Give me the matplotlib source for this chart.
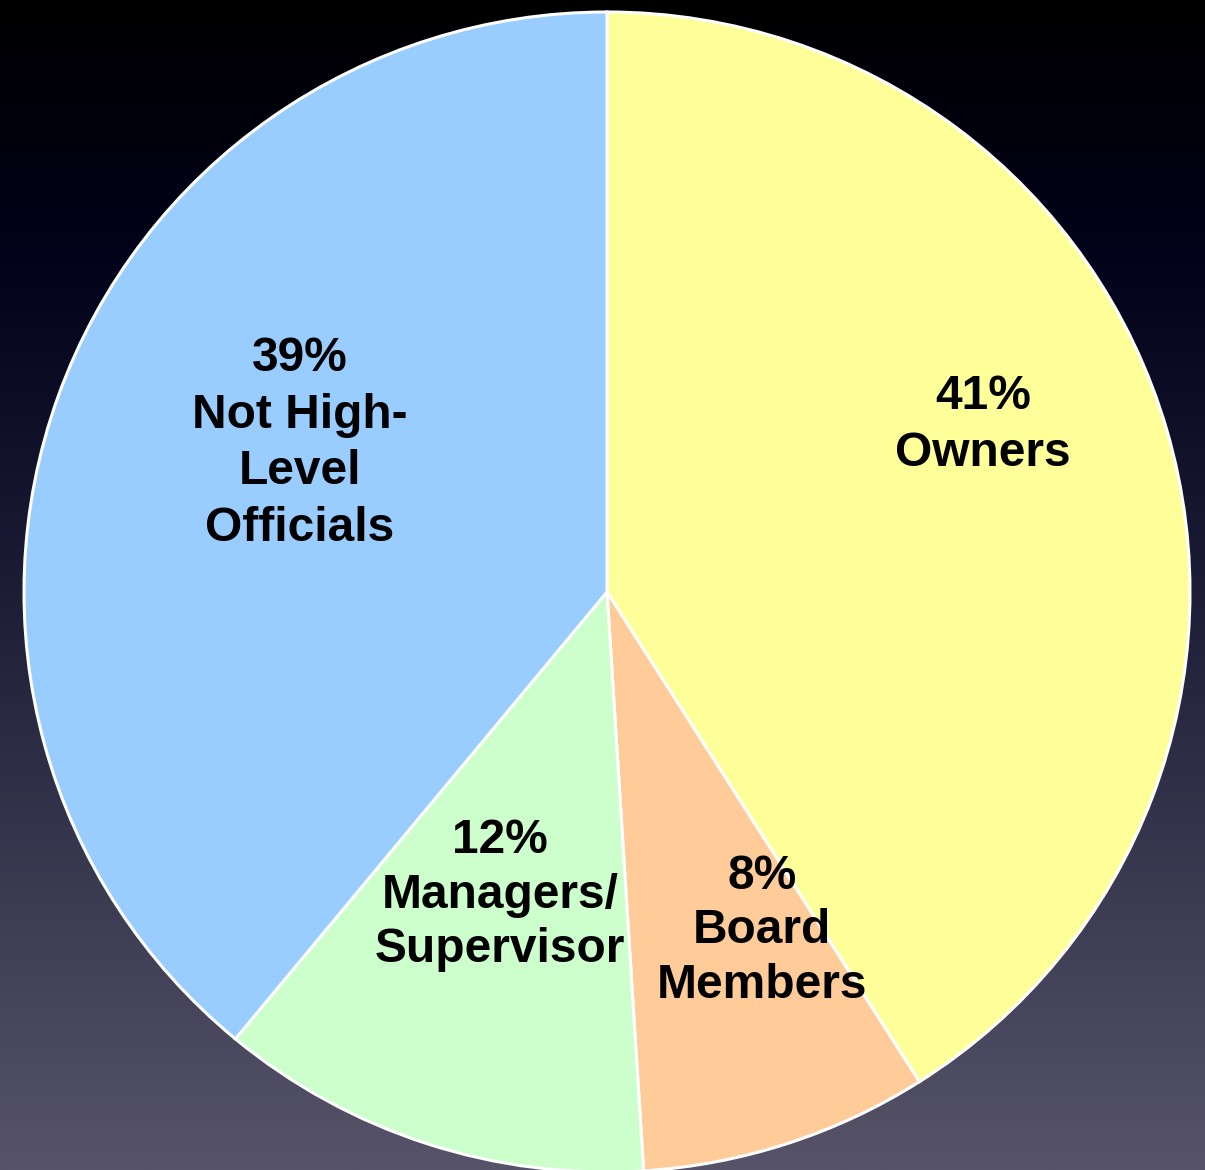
import numpy as np
import matplotlib
matplotlib.use("Agg")
import matplotlib.pyplot as plt
from matplotlib.colors import LinearSegmentedColormap

# Share of respondents by position
categories = ["Owners", "Board\nMembers", "Managers/\nSupervisor", "Not High-\nLevel\nOfficials"]
shares = [41, 8, 12, 39]
colors = ["#FFFF99", "#FFCC99", "#CCFFCC", "#99CCFF"]

# Label anchor points in pie coordinates (unit radius)
label_xy = [(0.645, 0.288), (0.266, -0.584), (-0.184, -0.523), (-0.527, 0.256)]
label_spacing = [1.34, 1.27, 1.27, 1.34]

W, H, DPI = 1205, 1170, 100
fig = plt.figure(figsize=(W / DPI, H / DPI), dpi=DPI)

# Background: vertical gradient from black at the top to slate at the bottom
bg = fig.add_axes([0, 0, 1, 1])
bg.set_axis_off()
cmap = LinearSegmentedColormap.from_list(
    "bg",
    [(0.0, "#000000"), (0.22, "#02021a"), (0.5, "#1c1c36"),
     (0.75, "#393950"), (1.0, "#575469")],
)
grad = np.linspace(0, 1, 512).reshape(-1, 1)
bg.imshow(grad, aspect="auto", cmap=cmap, extent=[0, 1, 0, 1], origin="upper")
bg.set_xlim(0, 1)
bg.set_ylim(0, 1)

# Pie axes: centre at (607, 592) px, radius ~583 px horizontally, ~580 px vertically
cx, cy, rx, ry = 607, 592, 583, 580
ax = fig.add_axes([(cx - rx) / W, (H - cy - ry) / H, 2 * rx / W, 2 * ry / H])
ax.set_facecolor("none")
ax.pie(
    shares,
    colors=colors,
    startangle=90,
    counterclock=False,
    wedgeprops=dict(edgecolor="white", linewidth=2.2),
)
ax.set_xlim(-1, 1)
ax.set_ylim(-1, 1)
ax.set_aspect("auto")
ax.set_axis_off()

for cat, val, (x, y), ls in zip(categories, shares, label_xy, label_spacing):
    ax.text(
        x, y, f"{val}%\n{cat}",
        ha="center", va="center", multialignment="center",
        fontsize=34.5, fontweight="bold", family="Liberation Sans",
        color="black", linespacing=ls,
    )

fig.savefig("out.png", dpi=DPI)
